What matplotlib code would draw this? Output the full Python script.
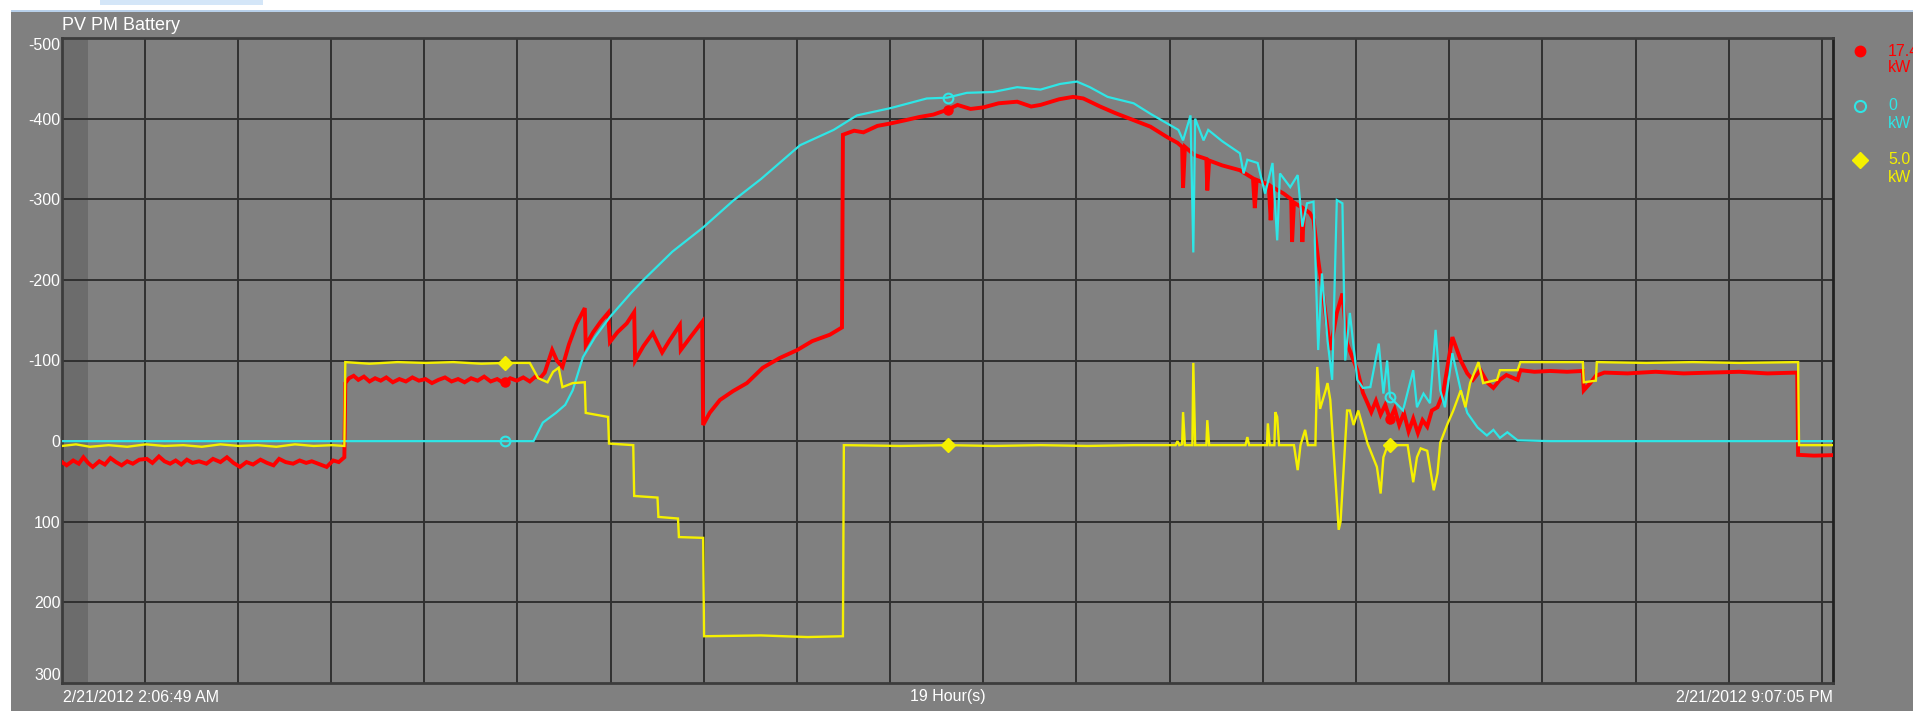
import numpy as np
import matplotlib
matplotlib.use("Agg")
import matplotlib.pyplot as plt
from matplotlib.patches import Rectangle
from matplotlib.lines import Line2D
from datetime import datetime, timedelta

plt.rcParams['font.family'] = ['Liberation Sans', 'DejaVu Sans']

# ---- time window of the trend ----
START = datetime(2012, 2, 21, 2, 6, 49)
END = datetime(2012, 2, 21, 21, 7, 5)
SPAN_H = (END - START).total_seconds() / 3600.0

TITLE = "PV PM Battery"
UNIT = "kW"
y_ticks = [-500, -400, -300, -200, -100, 0, 100, 200, 300]

# ---- series: (hours since START, kW) ----
red_points = [
    (0.00, 26), (0.05, 30), (0.12, 24), (0.18, 28), (0.23, 20), (0.28, 27), (0.33, 32), (0.40, 25),
    (0.46, 29), (0.52, 21), (0.58, 26), (0.64, 30), (0.70, 25), (0.76, 28), (0.83, 23), (0.91, 22),
    (0.97, 27), (1.04, 19), (1.10, 25), (1.16, 28), (1.22, 24), (1.28, 29), (1.34, 23), (1.40, 27),
    (1.47, 25), (1.55, 28), (1.62, 22), (1.70, 26), (1.77, 20), (1.84, 27), (1.91, 32), (1.98, 26),
    (2.05, 29), (2.13, 23), (2.20, 27), (2.27, 30), (2.33, 22), (2.40, 26), (2.48, 28), (2.55, 24),
    (2.62, 27), (2.68, 25), (2.75, 28), (2.84, 32), (2.91, 24), (2.97, 26), (3.03, 20),
    (3.04, -72), (3.08, -78), (3.13, -81), (3.18, -76), (3.24, -80), (3.30, -74), (3.36, -78),
    (3.42, -75), (3.48, -79), (3.55, -73), (3.62, -77), (3.69, -74), (3.76, -79), (3.83, -75),
    (3.90, -77), (3.97, -72), (4.04, -76), (4.11, -79), (4.18, -74), (4.25, -77), (4.32, -73),
    (4.39, -78), (4.46, -75), (4.53, -80), (4.60, -74), (4.67, -77), (4.74, -72), (4.81, -78),
    (4.88, -75), (4.95, -79), (5.02, -74), (5.08, -80), (5.13, -78),
    (5.18, -85), (5.26, -113), (5.31, -100), (5.37, -92), (5.44, -120), (5.52, -145), (5.61, -165),
    (5.62, -119), (5.70, -135), (5.78, -148), (5.86, -159), (5.88, -123), (5.96, -135), (6.06, -146),
    (6.14, -160), (6.15, -100), (6.24, -118), (6.34, -134), (6.44, -110), (6.52, -125), (6.63, -144),
    (6.64, -113), (6.75, -130), (6.87, -148), (6.88, -20), (6.95, -35), (7.06, -51), (7.20, -62),
    (7.35, -72), (7.52, -91), (7.70, -103), (7.89, -113), (8.05, -124), (8.24, -132), (8.37, -141),
    (8.38, -380), (8.50, -385), (8.60, -383), (8.75, -391), (8.89, -394), (9.05, -398), (9.20, -402),
    (9.35, -405), (9.50, -411), (9.61, -417), (9.75, -412), (9.89, -414), (10.05, -419), (10.25, -421),
    (10.40, -415), (10.50, -417), (10.70, -424), (10.85, -427), (10.96, -425), (11.05, -420), (11.14, -415),
    (11.30, -407), (11.50, -398), (11.68, -390), (11.86, -377), (11.97, -370), (12.02, -365),
    (12.03, -314), (12.05, -365), (12.15, -355), (12.28, -350), (12.29, -311), (12.31, -348),
    (12.45, -342), (12.64, -336), (12.78, -326), (12.80, -289), (12.82, -324), (12.95, -318),
    (12.97, -274), (12.99, -315), (13.11, -307), (13.19, -300), (13.20, -247), (13.22, -296),
    (13.30, -290), (13.31, -247), (13.33, -288), (13.39, -283), (13.43, -275), (13.48, -225),
    (13.53, -183), (13.61, -113), (13.68, -159), (13.74, -183), (13.79, -121), (13.90, -88),
    (13.96, -60), (14.01, -47), (14.05, -36), (14.10, -50), (14.15, -33), (14.20, -45), (14.25, -27),
    (14.30, -40), (14.35, -20), (14.40, -35), (14.45, -12), (14.50, -28), (14.55, -10), (14.60, -26),
    (14.65, -18), (14.70, -38), (14.76, -42), (14.82, -59), (14.92, -129), (15.01, -100), (15.08, -84),
    (15.14, -76), (15.22, -88), (15.30, -72), (15.36, -66), (15.43, -76), (15.50, -82), (15.62, -76),
    (15.65, -88), (15.80, -86), (15.97, -87), (16.15, -86), (16.32, -87), (16.33, -63), (16.40, -72),
    (16.46, -81), (16.55, -85), (16.80, -84), (17.10, -86), (17.40, -84), (17.70, -85), (18.00, -86),
    (18.30, -84), (18.62, -85), (18.63, 17), (18.80, 18), (19.00, 17.4),
]

cyan_points = [
    (0.00, 0), (5.06, 0), (5.16, -23), (5.30, -35), (5.40, -45), (5.48, -63), (5.59, -104),
    (5.72, -129), (5.88, -154), (6.10, -183), (6.24, -200), (6.55, -235), (6.88, -265),
    (7.20, -298), (7.50, -325), (7.92, -367), (8.28, -386), (8.53, -404), (8.89, -413),
    (9.28, -425), (9.50, -426), (9.71, -432), (9.99, -433), (10.25, -439), (10.50, -436),
    (10.71, -443), (10.89, -446), (11.03, -439), (11.22, -427), (11.50, -419), (11.68, -406),
    (11.89, -392), (11.98, -386), (12.03, -373), (12.11, -404), (12.14, -234), (12.16, -400),
    (12.25, -373), (12.30, -386), (12.45, -372), (12.64, -357), (12.68, -332), (12.72, -349),
    (12.83, -345), (12.91, -307), (12.99, -345), (13.04, -249), (13.07, -332), (13.18, -315),
    (13.26, -330), (13.31, -266), (13.36, -295), (13.43, -297), (13.45, -225), (13.48, -113),
    (13.52, -208), (13.58, -125), (13.63, -76), (13.68, -299), (13.74, -295), (13.77, -100),
    (13.82, -159), (13.90, -76), (13.96, -66), (14.04, -67), (14.13, -121), (14.18, -59),
    (14.22, -100), (14.25, -55), (14.39, -38), (14.50, -88), (14.54, -42), (14.61, -59),
    (14.68, -47), (14.74, -138), (14.79, -63), (14.84, -42), (14.92, -109), (15.01, -63),
    (15.08, -35), (15.19, -17), (15.29, -7), (15.36, -14), (15.43, -4), (15.51, -11),
    (15.62, -1), (15.97, 0), (19.00, 0),
]

yellow_points = [
    (0.00, 6), (0.15, 4), (0.30, 7), (0.50, 5), (0.70, 7), (0.90, 4), (1.10, 6), (1.30, 5),
    (1.50, 7), (1.70, 4), (1.90, 6), (2.10, 5), (2.30, 7), (2.50, 4), (2.70, 6), (2.90, 5),
    (3.03, 6), (3.04, -98), (3.30, -96), (3.60, -98), (3.90, -97), (4.20, -98), (4.50, -96),
    (4.75, -97), (5.02, -97), (5.11, -78), (5.21, -73), (5.27, -86), (5.33, -91), (5.37, -67),
    (5.48, -72), (5.61, -73), (5.62, -35), (5.86, -30), (5.87, 3), (6.13, 5), (6.14, 68),
    (6.39, 70), (6.40, 94), (6.61, 96), (6.62, 119), (6.88, 120), (6.89, 242), (7.50, 241),
    (8.00, 243), (8.38, 242), (8.39, 5), (9.00, 6), (9.50, 5), (10.00, 6), (10.50, 5),
    (11.00, 6), (11.50, 5), (11.95, 5), (11.97, 0), (11.99, 5), (12.02, 4), (12.03, -36),
    (12.05, 5), (12.13, 5), (12.14, -97), (12.16, 5), (12.28, 5), (12.29, -26), (12.31, 5),
    (12.70, 5), (12.72, -5), (12.74, 5), (12.93, 5), (12.94, -22), (12.96, 5), (13.01, 5),
    (13.02, -36), (13.04, -30), (13.06, 5), (13.22, 5), (13.26, 36), (13.29, 5), (13.34, -14),
    (13.37, 5), (13.45, 5), (13.47, -92), (13.50, -40), (13.56, -63), (13.58, -72), (13.61, -51),
    (13.70, 110), (13.72, 100), (13.79, -38), (13.82, -38), (13.86, -20), (13.91, -38),
    (14.01, 3), (14.11, 32), (14.15, 65), (14.18, 20), (14.22, 7), (14.25, 5), (14.44, 5),
    (14.50, 51), (14.54, 20), (14.58, 9), (14.65, 12), (14.72, 61), (14.76, 40), (14.79, 2),
    (14.87, -22), (14.93, -38), (15.01, -63), (15.06, -42), (15.11, -72), (15.20, -98),
    (15.25, -72), (15.40, -76), (15.43, -88), (15.62, -88), (15.65, -98), (16.32, -98),
    (16.33, -73), (16.46, -75), (16.47, -98), (17.00, -97), (17.50, -98), (18.00, -97),
    (18.63, -98), (18.64, 5), (19.00, 5.0),
]

RED, CYAN, YELLOW = "#ff0000", "#2ee6e6", "#f5f000"
BG = "#808080"
GRID = "#303030"

W, H = 1913, 711
fig = plt.figure(figsize=(W / 100, H / 100), dpi=100, facecolor="white")

# window chrome: grey panel with a thin blue top edge (kept behind the axes)
fig.patches.append(Rectangle((11 / W, 0), 1 - 11 / W, (H - 11) / H, transform=fig.transFigure,
                             facecolor=BG, edgecolor="none", zorder=-2))
fig.patches.append(Rectangle((11 / W, (H - 12) / H), 1 - 11 / W, 2 / H, transform=fig.transFigure,
                             facecolor="#b8d0ea", edgecolor="none", zorder=-1))
fig.patches.append(Rectangle((100 / W, (H - 5) / H), 163 / W, 5 / H, transform=fig.transFigure,
                             facecolor="#d4e6f8", edgecolor="none", zorder=-1))

ax = fig.add_axes([62 / W, 1 - 683 / H, (1833 - 62) / W, (683 - 38) / H])
ax.set_facecolor(BG)
ax.set_xlim(0, SPAN_H)
ax.set_ylim(y_ticks[-1], y_ticks[0])

# shaded strip at the start of the window
ax.axvspan(0, 0.28, color="#6c6c6c", zorder=0.5, lw=0)

# hourly vertical grid and 100 kW horizontal grid
first_hour = START.replace(minute=0, second=0) + timedelta(hours=1)
hour_marks = []
t = first_hour
while t < END:
    hour_marks.append((t - START).total_seconds() / 3600.0)
    t += timedelta(hours=1)
for hx in hour_marks:
    ax.axvline(hx, color=GRID, lw=1.4, zorder=1)
for yv in y_ticks[1:-1]:
    ax.axhline(yv, color=GRID, lw=1.4, zorder=1)

for s in ax.spines.values():
    s.set_color("#3c3c3c")
    s.set_linewidth(2)
ax.spines["right"].set_color("#202020")

series = [
    (red_points, RED, 2.8),
    (cyan_points, CYAN, 1.6),
    (yellow_points, YELLOW, 1.7),
]
for pts, col, lw in series:
    tx, vy = zip(*pts)
    ax.plot(tx, vy, color=col, lw=lw, zorder=3, solid_joinstyle="miter")

# position markers at quarter points of the window
mark_t = [SPAN_H * f for f in (0.25, 0.5, 0.75)]
styles = [
    dict(marker="o", ms=6.5, color=RED, mec=RED, lw=0),
    dict(marker="o", ms=7, mfc="none", mec=CYAN, mew=1.5, lw=0),
    dict(marker="D", ms=7.5, color=YELLOW, mec=YELLOW, lw=0),
]
for (pts, col, lw), st in zip(series, styles):
    tx, vy = zip(*pts)
    ax.plot(mark_t, np.interp(mark_t, tx, vy), zorder=4, **st)

ax.set_xticks([])
ax.set_yticks(y_ticks)
ax.set_yticklabels([str(v) for v in y_ticks])
ax.tick_params(axis="y", length=0, pad=1, labelcolor="white", labelsize=11.5)
ylabels = ax.get_yticklabels()
ylabels[0].set_verticalalignment("top")
ylabels[-1].set_verticalalignment("bottom")

fig.text(62 / W, 1 - 25 / H, TITLE, color="white", fontsize=13, va="center", ha="left")


def stamp(d):
    h12 = d.hour % 12 or 12
    return f"{d.month}/{d.day}/{d.year} {h12}:{d:%M:%S} {'AM' if d.hour < 12 else 'PM'}"


fy = 1 - 697 / H
fig.text(63 / W, fy, stamp(START), color="white", fontsize=11.5, va="center", ha="left")
fig.text(1833 / W, fy, stamp(END), color="white", fontsize=11.5, va="center", ha="right")
fig.text((62 + 1833) / 2 / W, fy, f"{round(SPAN_H)} Hour(s)", color="white", fontsize=11.5,
         va="center", ha="center")


def fmt(v):
    return "0" if v == 0 else f"{v:.1f}"


# current-value legend at the right edge
legend_rows = [(51, red_points, RED, styles[0]), (106, cyan_points, CYAN, styles[1]),
               (160, yellow_points, YELLOW, styles[2])]
for yy, pts, col, st in legend_rows:
    st2 = dict(st)
    st2["ms"] = st2["ms"] + 1
    fig.add_artist(Line2D([1860 / W], [1 - yy / H], transform=fig.transFigure, **st2))
    fig.text(1888 / W, 1 - yy / H, fmt(pts[-1][1]), color=col, fontsize=11.5, va="center", ha="left")
    fig.text(1888 / W, 1 - (yy + 17) / H, UNIT, color=col, fontsize=11.5, va="center", ha="left")

fig.savefig("out.png", dpi=100, facecolor=fig.get_facecolor())
